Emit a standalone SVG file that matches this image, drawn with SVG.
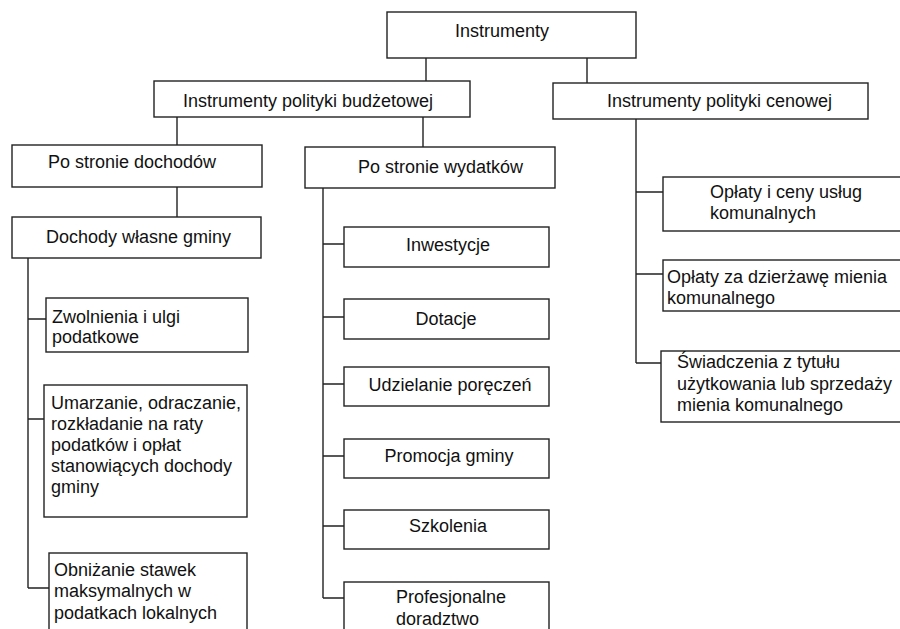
<svg xmlns="http://www.w3.org/2000/svg" width="900" height="629" viewBox="0 0 900 629">
<style>
.box{fill:#fff;stroke:#222;stroke-width:1.4}
.ln{fill:none;stroke:#222;stroke-width:1.4}
text{font-family:"Liberation Sans",Arial,sans-serif;font-size:18px;fill:#111}
.c{text-anchor:middle}
</style>
<rect width="900" height="629" fill="#fff"/>
<g id="connectors">
<path class="ln" d="M426,58V81M587,58V83M177,117V145M423,117V147M177,187V217"/>
<path class="ln" d="M28,258V588M28,319H46M28,419H44M28,588H49"/>
<path class="ln" d="M323,188V598M323,244H344M323,317H344M323,384H344M323,456H344M323,526H344M323,598H344"/>
<path class="ln" d="M636,119V363M636,192H663M636,274H663M636,363H661"/>
</g>
<g id="n-instrumenty"><rect class="box" x="387" y="12" width="249" height="46"/><text x="455" y="37">Instrumenty</text></g>
<g id="n-budzet"><rect class="box" x="154" y="81" width="316" height="36"/><text x="183" y="107">Instrumenty polityki budżetowej</text></g>
<g id="n-cen"><rect class="box" x="553" y="83" width="315" height="36"/><text x="607" y="107">Instrumenty polityki cenowej</text></g>
<g id="n-doch"><rect class="box" x="12" y="145" width="250" height="42"/><text x="48" y="168">Po stronie dochodów</text></g>
<g id="n-wlasne"><rect class="box" x="12" y="217" width="249" height="41"/><text x="46" y="243">Dochody własne gminy</text></g>
<g id="n-zwol"><rect class="box" x="46" y="298" width="202" height="54"/><text x="52" y="323">Zwolnienia i ulgi</text><text x="52" y="343">podatkowe</text></g>
<g id="n-umarz"><rect class="box" x="44" y="385" width="203" height="132"/><text x="51" y="409">Umarzanie, odraczanie,</text><text x="51" y="430">rozkładanie na raty</text><text x="51" y="451">podatków i opłat</text><text x="51" y="472">stanowiących dochody</text><text x="51" y="493">gminy</text></g>
<g id="n-obniz"><rect class="box" x="49" y="553" width="198" height="90"/><text x="54" y="576">Obniżanie stawek</text><text x="54" y="597">maksymalnych w</text><text x="54" y="619">podatkach lokalnych</text></g>
<g id="n-wyd"><rect class="box" x="305" y="147" width="250" height="41"/><text x="358" y="173">Po stronie wydatków</text></g>
<g id="n-inw"><rect class="box" x="344" y="227" width="205" height="40"/><text class="c" x="448" y="251">Inwestycje</text></g>
<g id="n-dot"><rect class="box" x="344" y="299" width="205" height="40"/><text class="c" x="446" y="325">Dotacje</text></g>
<g id="n-udz"><rect class="box" x="344" y="367" width="205" height="39"/><text class="c" x="450" y="391">Udzielanie poręczeń</text></g>
<g id="n-prom"><rect class="box" x="344" y="439" width="205" height="39"/><text class="c" x="449" y="462">Promocja gminy</text></g>
<g id="n-szk"><rect class="box" x="344" y="510" width="205" height="39"/><text class="c" x="448" y="532">Szkolenia</text></g>
<g id="n-prof"><rect class="box" x="344" y="582" width="205" height="60"/><text x="396" y="603">Profesjonalne</text><text x="396" y="625">doradztwo</text></g>
<g id="n-oplaty"><rect class="box" x="663" y="177" width="250" height="54"/><text x="710" y="198">Opłaty i ceny usług</text><text x="710" y="219">komunalnych</text></g>
<g id="n-dzierz"><rect class="box" x="663" y="260" width="250" height="51"/><text x="667" y="283">Opłaty za dzierżawę mienia</text><text x="667" y="304">komunalnego</text></g>
<g id="n-swiad"><rect class="box" x="661" y="351" width="252" height="71"/><text x="677" y="368">Świadczenia z tytułu</text><text x="677" y="390">użytkowania lub sprzedaży</text><text x="677" y="411">mienia komunalnego</text></g>
</svg>
